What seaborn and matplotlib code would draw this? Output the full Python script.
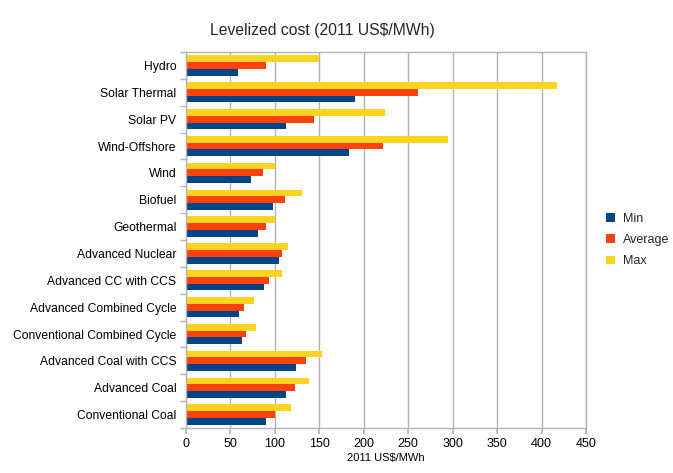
import matplotlib
matplotlib.use("Agg")
import matplotlib.pyplot as plt
import seaborn as sns
import pandas as pd
import numpy as np
from matplotlib.patches import Patch

categories = ["Hydro", "Solar Thermal", "Solar PV", "Wind-Offshore", "Wind", "Biofuel",
              "Geothermal", "Advanced Nuclear", "Advanced CC with CCS",
              "Advanced Combined Cycle", "Conventional Combined Cycle",
              "Advanced Coal with CCS", "Advanced Coal", "Conventional Coal"]
min_vals = [58.4, 190.2, 112.5, 183.0, 73.5, 98.0, 81.4, 104.4, 87.4, 60.0, 62.5, 123.9, 112.8, 89.5]
avg_vals = [90.3, 261.5, 144.3, 221.5, 86.6, 111.0, 89.6, 108.4, 93.4, 65.6, 67.1, 135.5, 123.0, 100.1]
max_vals = [149.2, 417.6, 224.4, 294.7, 99.8, 130.8, 100.3, 115.3, 107.5, 76.1, 78.2, 152.7, 137.9, 118.3]
series = ["Min", "Average", "Max"]
colors = {"Min": "#004586", "Average": "#ff420e", "Max": "#ffd320"}

rows = []
for s, vals in zip(series, [min_vals, avg_vals, max_vals]):
    for c, v in zip(categories, vals):
        rows.append({"Source": c, "Series": s, "Cost": v})
df = pd.DataFrame(rows)

sns.set_theme(style="white")
plt.rcParams["font.family"] = ["Liberation Sans", "DejaVu Sans"]

fig = plt.figure(figsize=(6.73, 4.73), dpi=100)
ax = fig.add_axes([186/673, 1 - 428/473, 400/673, 376/473])

sns.barplot(data=df, y="Source", x="Cost", hue="Series", order=categories,
            hue_order=["Max", "Average", "Min"], palette=colors, orient="h",
            width=0.76, saturation=1, ax=ax, legend=False, linewidth=0, edgecolor="none")

ax.set_xlim(0, 450)
ax.set_ylim(len(categories) - 0.5, -0.5)
ax.set_xticks(np.arange(0, 451, 50))
ax.xaxis.grid(True, color="#b3b3b3", linewidth=1)
ax.yaxis.grid(False)
ax.set_axisbelow(True)
for sp in ax.spines.values():
    sp.set_color("#b3b3b3")
    sp.set_linewidth(1)

ax.set_yticks(np.arange(len(categories)))
ax.set_yticklabels(categories)
ax.set_yticks(np.arange(len(categories) + 1) - 0.5, minor=True)
ax.tick_params(axis="y", which="major", length=0, pad=7, labelsize=8.7, labelcolor="black")
ax.tick_params(axis="y", which="minor", length=4, color="#b3b3b3", left=True)
ax.tick_params(axis="x", which="major", length=4, color="#b3b3b3", bottom=True,
               labelsize=9, labelcolor="black", pad=3)
ax.set_ylabel("")
ax.set_xlabel("2011 US$/MWh", fontsize=8, labelpad=2, color="black")
fig.suptitle("Levelized cost (2011 US$/MWh)", x=322/673, y=1 - 30/473, va="center", fontsize=11.3)

handles = [Patch(facecolor=colors[s], edgecolor="none") for s in series]
fig.legend(handles, series, loc="center left", bbox_to_anchor=(595/673, 1 - 240/473),
           frameon=False, fontsize=9, handlelength=0.7, handleheight=0.7,
           handletextpad=0.6, labelspacing=0.75)

fig.savefig("out.png", dpi=100, facecolor="white")
